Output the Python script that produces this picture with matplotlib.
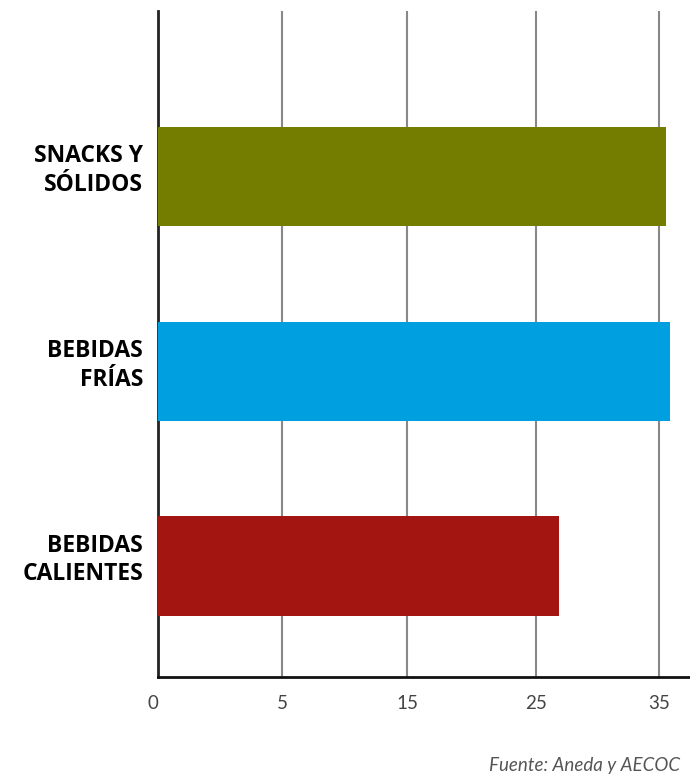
import numpy as np
import matplotlib
matplotlib.use("Agg")
import matplotlib.pyplot as plt
from matplotlib.transforms import ScaledTranslation

categories = ["SNACKS Y\nSÓLIDOS", "BEBIDAS\nFRÍAS", "BEBIDAS\nCALIENTES"]
values = [35.6, 35.9, 26.9]
colors = ["#757d00", "#00a0e0", "#a31510"]
tick_values = [0, 5, 15, 25, 35]
source = "Fuente: Aneda y AECOC"

# axis is spaced evenly by tick, not by value
_vals = np.array([0, 5, 15, 25, 35, 45], dtype=float)
_pos = np.array([0, 124, 249, 378, 501, 625], dtype=float)


def forward(x):
    return np.interp(x, _vals, _pos)


def inverse(p):
    return np.interp(p, _pos, _vals)


plt.rcParams["font.family"] = ["Open Sans", "DejaVu Sans"]

fig = plt.figure(figsize=(6.9, 7.75), dpi=100)
ax = fig.add_axes([158 / 690, 1 - 677 / 775, 1 - 158 / 690, (677 - 11) / 775])

ax.set_xscale("function", functions=(forward, inverse))
y = np.arange(len(categories))
ax.barh(y, values, height=0.51, color=colors, zorder=3)

ax.set_xlim(0, inverse(532))
ax.set_ylim(2.57, -0.85)

ax.set_xticks(tick_values)
ax.set_xticklabels([str(v) for v in tick_values], fontsize=13.5, color="#444444",
                   fontfamily=["Lato", "DejaVu Sans"])
ax.tick_params(axis="x", length=0, pad=13)
zero = ax.get_xticklabels()[0]
zero.set_transform(zero.get_transform() + ScaledTranslation(-5 / 100, 0, fig.dpi_scale_trans))
ax.set_yticks([])
ax.xaxis.grid(True, color="#888888", linewidth=1.5, zorder=0)

for sp in ["top", "right"]:
    ax.spines[sp].set_visible(False)
ax.spines["left"].set_color("#222222")
ax.spines["left"].set_linewidth(2)
ax.spines["bottom"].set_color("#111111")
ax.spines["bottom"].set_linewidth(2)

for yi, name in zip(y, categories):
    ax.text(-0.028, yi - 0.03, name, transform=ax.get_yaxis_transform(),
            ha="right", va="center", fontsize=16.5, fontweight="bold",
            color="black", linespacing=1.25)

fig.text(680 / 690, 1 - 766 / 775, source, ha="right", va="center",
         fontsize=13.5, style="italic", color="#555555",
         fontfamily=["Lato", "DejaVu Sans"])

fig.savefig("out.png", dpi=100)
